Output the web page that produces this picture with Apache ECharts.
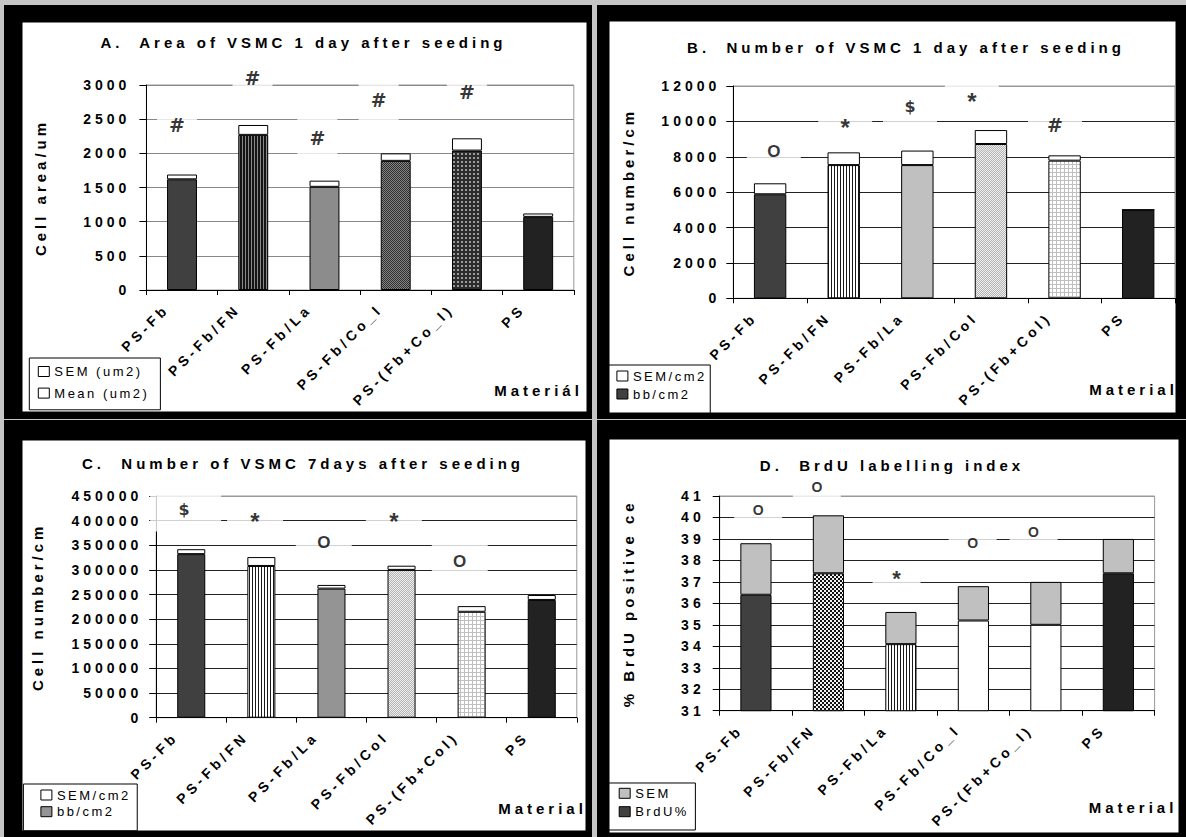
<!DOCTYPE html>
<html>
<head>
<meta charset="utf-8">
<script src="https://cdn.jsdelivr.net/npm/echarts@6/dist/echarts.min.js"></script>
<style>
html,body{margin:0;padding:0;background:#c6c6c6;}
#chart{width:1186px;height:837px;}
#chart text{white-space:pre;}
</style>
</head>
<body>
<div id="chart"></div>
<script>
// ---------------- data ----------------
const catsA = ['PS-Fb', 'PS-Fb/FN', 'PS-Fb/La', 'PS-Fb/Co_l', 'PS-(Fb+Co_l)', 'PS'];
const catsB = ['PS-Fb', 'PS-Fb/FN', 'PS-Fb/La', 'PS-Fb/Col', 'PS-(Fb+Col)', 'PS'];
const catsC = ['PS-Fb', 'PS-Fb/FN', 'PS-Fb/La', 'PS-Fb/Col', 'PS-(Fb+Col)', 'PS'];
const catsD = ['PS-Fb', 'PS-Fb/FN', 'PS-Fb/La', 'PS-Fb/Co_l', 'PS-(Fb+Co_l)', 'PS'];

const meanA = [1620, 2270, 1510, 1890, 2040, 1070];
const semA  = [70, 145, 90, 110, 180, 50];
const meanB = [5880, 7530, 7530, 8720, 7780, 5000];
const semB  = [620, 720, 820, 790, 300, 0];
const meanC = [332000, 308000, 262000, 300000, 215000, 239000];
const semC  = [10000, 18000, 7500, 8500, 11500, 10000];
const meanD = [36.4, 37.4, 34.1, 35.2, 35.0, 37.4];
const semD  = [2.4, 2.7, 1.5, 1.6, 2.0, 1.6];

// y-axis ranges [min, max, step]
const yAxisA = [0, 3000, 500];
const yAxisB = [0, 12000, 2000];
const yAxisC = [0, 450000, 50000];
const yAxisD = [31, 41, 1];

// significance marks: [category position (0..6), value, mark]
const sigA = [[0.43, 2415, '#'], [1.49, 3098, '#'], [2.40, 2220, '#'], [3.26, 2780, '#'], [4.50, 2902, '#']];
const sigB = [[0.55, 8290, 'O'], [1.52, 9926, '*'], [2.40, 10840, '$'], [3.24, 11435, '*'], [4.37, 9800, '#']];
const sigC = [[0.42, 421600, '$'], [1.41, 408000, '*'], [2.39, 355200, 'O'], [3.39, 408000, '*'], [4.33, 316600, 'O']];
const sigD = [[0.53, 40.35, 'O'], [1.34, 41.43, 'O'], [2.44, 37.40, '*'], [3.49, 38.80, 'O'], [4.33, 39.34, 'O']];

const titles = ['A.  Area of VSMC 1 day after seeding', 'B.  Number of VSMC 1 day after seeding',
                'C.  Number of VSMC 7days after seeding', 'D.  BrdU labelling index'];
const yNames = ['Cell area/um', 'Cell number/cm', 'Cell number/cm', '% BrdU positive ce'];
const xNames = ['Materiál', 'Material', 'Material', 'Material'];
const semNames = ['SEM (um2)', 'SEM/cm2', 'SEM/cm2', 'SEM'];
const meanNames = ['Mean (um2)', 'bb/cm2', 'bb/cm2', 'BrdU%'];

// ---------------- styles ----------------
const FONT = '"Liberation Sans", Arial, sans-serif';
const MARKFONT = { '#': '"DejaVu Sans", sans-serif', '$': '"DejaVu Sans", sans-serif', '*': FONT, 'O': FONT };
function tile(w, h, fn) {
  const cv = document.createElement('canvas'); cv.width = w; cv.height = h;
  const g = cv.getContext('2d'); fn(g);
  return { image: cv.toDataURL(), repeat: 'repeat', imageWidth: w, imageHeight: h };
}
function px(g, x, y, c) { g.fillStyle = c; g.fillRect(x, y, 1, 1); }
const PAT = {
  vDark: tile(3, 4, g => { g.fillStyle = '#141414'; g.fillRect(0, 0, 3, 4); g.fillStyle = '#8a8a8a'; g.fillRect(2, 0, 1, 4); }),
  vLight: tile(3, 4, g => { g.fillStyle = '#ffffff'; g.fillRect(0, 0, 3, 4); g.fillStyle = '#1a1a1a'; g.fillRect(0, 0, 1, 4); }),
  stipDark: tile(2, 2, g => { g.fillStyle = '#2e2e2e'; g.fillRect(0, 0, 2, 2); px(g, 1, 0, '#858585'); px(g, 0, 1, '#858585'); }),
  stipLight: tile(2, 2, g => { g.fillStyle = '#eeeeee'; g.fillRect(0, 0, 2, 2); px(g, 1, 0, '#b4b4b4'); px(g, 0, 1, '#b4b4b4'); }),
  gridDark: tile(4, 4, g => { g.fillStyle = '#2c2c2c'; g.fillRect(0, 0, 4, 4); g.fillStyle = '#9a9a9a'; g.fillRect(1, 1, 2, 2); }),
  gridLight: tile(4, 4, g => { g.fillStyle = '#ffffff'; g.fillRect(0, 0, 4, 4); g.fillStyle = '#c0c0c0'; g.fillRect(0, 0, 4, 1); g.fillRect(0, 0, 1, 4); }),
  checker: tile(4, 4, g => { g.fillStyle = '#f0f0f0'; g.fillRect(0, 0, 4, 4); g.fillStyle = '#111111'; g.fillRect(0, 0, 2, 2); g.fillRect(2, 2, 2, 2); })
};
const fills = [
  ['#404040', PAT.vDark, '#8c8c8c', PAT.stipDark, PAT.gridDark, '#222222'],
  ['#404040', PAT.vLight, '#c0c0c0', PAT.stipLight, PAT.gridLight, '#222222'],
  ['#404040', PAT.vLight, '#949494', PAT.stipLight, PAT.gridLight, '#222222'],
  ['#404040', PAT.checker, PAT.vLight, '#ffffff', '#ffffff', '#222222']
];
const semFill = ['#ffffff', '#ffffff', '#ffffff', '#c0c0c0'];
const meanLegendColor = ['#ffffff', '#404040', '#949494', '#404040'];

// glyph styling of the significance marks: font size, advance (em), ink shift (em)
const glyphFont = [{ '#': 19, '*': 24, '$': 16, 'O': 17 }, { '#': 19, '*': 24, '$': 16, 'O': 17 },
                   { '#': 19, '*': 24, '$': 16, 'O': 17 }, { '#': 17, '*': 22, '$': 15, 'O': 14 }];
const glyphAdvance = { '#': 0.838, '*': 0.389, '$': 0.696, 'O': 0.778 };
const glyphShift = { '*': 0.22 };

const dk = '#222222';
const layout = [
  { grid: { left: 146.4, top: 85, width: 427.4, height: 205 }, barWidth: '42%', labelMargin: 16, nameGap: 98,
    split: ['#888888'], box: [16, 29, 20], boxSpecial: {},
    title: { x: 303.5, top: 34.5 }, material: { x: 538.5, y: 390 },
    legend: { left: 29.3, top: 358, padding: [6.5, 36, 9.7, 8.5], itemGap: 7.6 },
    frame: [4, 5, 588, 414], inner: [22, 22, 565, 390] },
  { grid: { left: 733.3, top: 86, width: 441.7, height: 212.3 }, barWidth: '44%', labelMargin: 13, nameGap: 97,
    split: [dk, dk, dk, dk, dk, dk, '#999999'], box: [17, 21, 27], boxSpecial: {},
    title: { x: 906, top: 39.5 }, material: { x: 1133.5, y: 389 },
    legend: { left: 609, top: 365, padding: [4, 21, 12, 7.4], itemGap: 4 },
    frame: [597, 5, 589, 414], inner: [609, 21, 567, 392] },
  { grid: { left: 156.2, top: 496, width: 420.6, height: 221.7 }, barWidth: '40%', labelMargin: 14, nameGap: 111,
    split: [dk, dk, dk, dk, dk, dk, dk, dk, dk, '#999999'], box: [16.5, 19.5, 28], boxSpecial: { 0: [17, 26, 34, 37] },
    title: { x: 303, top: 455.5 }, material: { x: 542.5, y: 808 },
    legend: { left: 23.4, top: 784, padding: [4, 24, 12, 17], itemGap: 2.7 },
    frame: [4, 420, 588, 417], inner: [22, 440, 564, 391] },
  { grid: { left: 719.7, top: 496, width: 434.9, height: 214.7 }, barWidth: '43%', labelMargin: 15, nameGap: 84,
    split: [dk, dk, dk, dk, dk, dk, dk, dk, dk, dk, '#999999'], box: [12.9, 12, 24], boxSpecial: {},
    title: { x: 892, top: 457.5 }, material: { x: 1133, y: 807 },
    legend: { left: 609, top: 783, padding: [3.3, 19, 11.3, 9.7], itemGap: 4.4 },
    frame: [597, 420, 589, 417], inner: [609, 439, 570, 394] }
];

const cats = [catsA, catsB, catsC, catsD];
const means = [meanA, meanB, meanC, meanD];
const sems = [semA, semB, semC, semD];
const yRanges = [yAxisA, yAxisB, yAxisC, yAxisD];
const sigs = [sigA, sigB, sigC, sigD];

// label style of one mark: box extents [above, below, left, right] around the ink centre
function markLabel(i, k, glyph) {
  const L = layout[i];
  const fs = glyphFont[i][glyph];
  const sh = (glyphShift[glyph] || 0) * fs;
  const sp = L.boxSpecial[k];
  const ext = sp ? sp : [L.box[0], L.box[1], L.box[2], L.box[2]];
  const hw = glyphAdvance[glyph] * fs / 2;
  const c = v => Math.max(0, v);
  return {
    fontSize: fs,
    fontFamily: MARKFONT[glyph],
    offset: [0, sh],
    padding: [c(ext[0] + sh - fs / 2), c(ext[3] - hw), c(ext[1] - sh - fs / 2), c(ext[2] - hw)]
  };
}

// ---------------- option ----------------
const option = {
  backgroundColor: '#c6c6c6',
  animation: false,
  title: [], grid: [], xAxis: [], yAxis: [], legend: [], series: [],
  graphic: { elements: [] }
};

for (let i = 0; i < 4; i++) {
  const L = layout[i];
  option.graphic.elements.push({ type: 'rect', silent: true, z: -10,
    shape: { x: L.frame[0], y: L.frame[1], width: L.frame[2], height: L.frame[3] }, style: { fill: '#000' } });
  option.graphic.elements.push({ type: 'rect', silent: true, z: -9,
    shape: { x: L.inner[0], y: L.inner[1], width: L.inner[2], height: L.inner[3] }, style: { fill: '#fff', stroke: '#000', lineWidth: 1 } });
  option.graphic.elements.push({ type: 'text', silent: true, z: 10, x: L.material.x, y: L.material.y,
    style: { text: xNames[i], font: 'bold 15px ' + FONT, fill: '#000', align: 'center', verticalAlign: 'middle' } });

  option.title.push({ text: titles[i], left: L.title.x, top: L.title.top, textAlign: 'center', padding: 0,
    textStyle: { fontSize: 15, fontWeight: 'bold', color: '#000', fontFamily: FONT } });

  option.grid.push(Object.assign({ show: true, borderColor: '#999', borderWidth: 1, backgroundColor: 'transparent',
    containLabel: false, outerBoundsMode: 'none' }, L.grid));

  option.xAxis.push({ type: 'category', gridIndex: i, data: cats[i],
    axisLine: { show: true, onZero: false, lineStyle: { color: '#000', width: 1 } },
    axisTick: { show: true, length: 5, alignWithLabel: false, lineStyle: { color: '#000' } },
    axisLabel: { interval: 0, rotate: 45, margin: 1, padding: [0, 22, 0, 0], fontSize: 14, fontWeight: 'bold', color: '#000', fontFamily: FONT },
    splitLine: { show: false } });
  option.xAxis.push({ type: 'value', gridIndex: i, min: 0, max: 6, show: false });

  const yr = yRanges[i];
  option.yAxis.push({ type: 'value', gridIndex: i, min: yr[0], max: yr[1], interval: yr[2],
    name: yNames[i], nameLocation: 'middle', nameGap: L.nameGap, nameMoveOverlap: false,
    nameTextStyle: { fontSize: 15, fontWeight: 'bold', color: '#000', fontFamily: FONT },
    axisLine: { show: true, lineStyle: { color: '#000', width: 1 } },
    axisTick: { show: true, length: 7, lineStyle: { color: '#000' } },
    axisLabel: { margin: L.labelMargin, fontSize: 14, fontWeight: 'bold', color: '#000', fontFamily: FONT, formatter: v => String(v) },
    splitLine: { show: true, showMinLine: true, showMaxLine: true, lineStyle: { color: L.split, width: 1 } } });

  option.legend.push({ orient: 'vertical', left: L.legend.left, top: L.legend.top, padding: L.legend.padding,
    itemGap: L.legend.itemGap, itemWidth: 11, itemHeight: 10, icon: 'rect', selectedMode: false,
    borderColor: '#000', borderWidth: 1, backgroundColor: '#fff',
    textStyle: { fontSize: 13, color: '#000', lineHeight: 14, fontFamily: FONT, fontWeight: 'normal' },
    data: [
      { name: semNames[i], itemStyle: { color: semFill[i], borderColor: '#000', borderWidth: 1 } },
      { name: meanNames[i], itemStyle: { color: meanLegendColor[i], borderColor: '#000', borderWidth: 1 } }
    ] });

  option.series.push({ type: 'bar', name: meanNames[i], xAxisIndex: 2 * i, yAxisIndex: i, stack: 'p' + i,
    barWidth: L.barWidth, silent: true,
    itemStyle: { color: meanLegendColor[i], borderColor: '#000', borderWidth: 1 },
    data: means[i].map((v, k) => ({ value: v, itemStyle: { color: fills[i][k] } })) });
  option.series.push({ type: 'bar', name: semNames[i], xAxisIndex: 2 * i, yAxisIndex: i, stack: 'p' + i,
    barWidth: L.barWidth, silent: true,
    itemStyle: { color: semFill[i], borderColor: '#000', borderWidth: 1 },
    data: sems[i] });
  option.series.push({ type: 'scatter', name: 'sig' + i, xAxisIndex: 2 * i + 1, yAxisIndex: i,
    silent: true, clip: false, z: 5, symbolSize: 1, itemStyle: { color: 'rgba(0,0,0,0)' },
    data: sigs[i].map((s, k) => ({ value: [s[0], s[1]], name: s[2], label: markLabel(i, k, s[2]) })),
    label: { show: true, position: 'inside', formatter: p => p.name, fontWeight: 900,
      color: '#000', fontFamily: FONT, backgroundColor: '#fff' } });
}

const chart = echarts.init(document.getElementById('chart'), null, { renderer: 'svg', width: 1186, height: 837 });
chart.setOption(option);

function spacing() {
  document.querySelectorAll('#chart text').forEach(t => {
    const fw = getComputedStyle(t).fontWeight;
    const w = parseInt(fw, 10) || (fw === 'bold' ? 700 : 400);
    t.style.letterSpacing = w >= 850 ? '0px' : (w >= 600 ? '4px' : '2.5px');
    t.style.whiteSpace = 'pre';
  });
}
spacing();
chart.on('finished', spacing);
setTimeout(spacing, 50);
setTimeout(spacing, 300);
</script>
</body>
</html>
